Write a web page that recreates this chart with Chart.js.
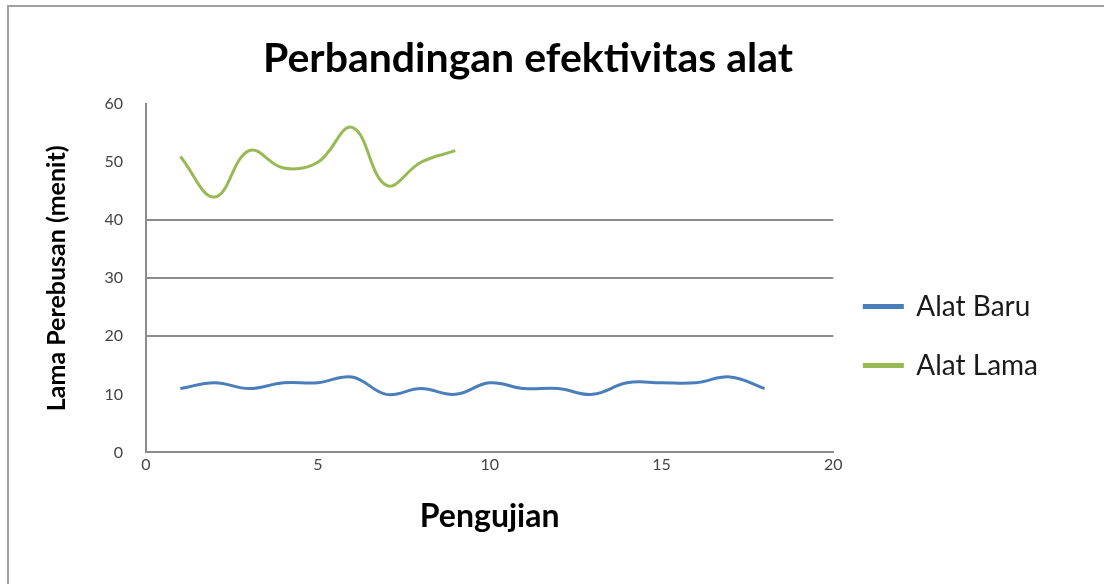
<!DOCTYPE html>
<html>
<head>
<meta charset="utf-8">
<script src="https://cdn.jsdelivr.net/npm/chart.js@4"></script>
<style>
  html, body { margin: 0; padding: 0; background: #fff; }
  body { width: 1104px; height: 584px; overflow: hidden; position: relative; }
  #frame { position: absolute; left: 7px; top: 5px; width: 1110px; height: 600px;
           border: 2px solid #a0a0a0; box-sizing: border-box; }
  #wrap { position: absolute; left: 0; top: 0; width: 1104px; height: 584px; }
</style>
</head>
<body>
<div id="frame"></div>
<div id="wrap"><canvas id="grafik"></canvas></div>
<script>
// Data pengujian
const pengujianBaru = [1, 2, 3, 4, 5, 6, 7, 8, 9, 10, 11, 12, 13, 14, 15, 16, 17, 18];
const alatBaru = [11, 12, 11, 12, 12, 13, 10, 11, 10, 12, 11, 11, 10, 12, 12, 12, 13, 11];
const pengujianLama = [1, 2, 3, 4, 5, 6, 7, 8, 9];
const alatLama = [51, 44, 52, 49, 50, 56, 46, 50, 52];
const xTicks = [0, 5, 10, 15, 20];
const yTicks = [0, 10, 20, 30, 40, 50, 60];
const gridShown = [20, 30, 40];

function toPoints(xs, ys) {
    return xs.map((x, i) => ({ x: x, y: ys[i] }));
}

const fontUtama = 'Lato, "Open Sans", sans-serif';

const ctx = document.getElementById('grafik').getContext('2d');
new Chart(ctx, {
    type: 'scatter',
    data: {
        datasets: [{
            label: 'Alat Baru',
            data: toPoints(pengujianBaru, alatBaru),
            borderColor: '#4a7ebb',
            backgroundColor: '#4a7ebb',
            borderWidth: 3,
            showLine: true,
            tension: 0.4,
            pointRadius: 0
        }, {
            label: 'Alat Lama',
            data: toPoints(pengujianLama, alatLama),
            borderColor: '#98b954',
            backgroundColor: '#98b954',
            borderWidth: 3,
            showLine: true,
            tension: 0.4,
            pointRadius: 0
        }]
    },
    options: {
        responsive: true,
        maintainAspectRatio: false,
        animation: false,
        layout: {
            padding: { left: 8, right: 56, top: 34, bottom: 48 }
        },
        plugins: {
            title: {
                display: true,
                text: 'Perbandingan efektivitas alat',
                color: '#000',
                font: { family: fontUtama, size: 41, weight: 'bold' },
                padding: { top: 0, bottom: 21 }
            },
            legend: {
                position: 'right',
                title: {
                    // ruang kosong supaya legenda turun
                    display: true,
                    text: ' ',
                    color: 'rgba(0,0,0,0)',
                    font: { size: 10 },
                    padding: { top: 90, bottom: 0 }
                },
                labels: {
                    color: '#1a1a1a',
                    font: { family: fontUtama, size: 28 },
                    boxWidth: 38,
                    boxHeight: 2,
                    padding: 31
                }
            },
            tooltip: { enabled: false }
        },
        scales: {
            x: {
                type: 'linear',
                min: 0,
                max: 20,
                afterBuildTicks: function(axis) {
                    axis.ticks = xTicks.map(v => ({ value: v }));
                },
                grid: { display: false, drawTicks: false },
                border: { display: true, color: '#8c8c8c', width: 2 },
                ticks: {
                    color: '#444',
                    font: { family: fontUtama, size: 16 },
                    padding: 3
                },
                title: {
                    display: true,
                    text: 'Pengujian',
                    color: '#000',
                    font: { family: fontUtama, size: 32, weight: 'bold' },
                    padding: { top: 20, bottom: 0 }
                }
            },
            y: {
                min: 0,
                max: 60,
                afterBuildTicks: function(axis) {
                    axis.ticks = yTicks.map(v => ({ value: v }));
                },
                afterFit: function(axis) {
                    axis.width = 138;
                },
                grid: {
                    drawTicks: false,
                    lineWidth: 2,
                    color: function(c) {
                        return gridShown.includes(c.tick.value) ? '#8c8c8c' : 'rgba(0,0,0,0)';
                    }
                },
                border: { display: true, color: '#8c8c8c', width: 2 },
                ticks: {
                    color: '#444',
                    font: { family: fontUtama, size: 16 },
                    padding: 23
                },
                title: {
                    display: true,
                    text: 'Lama Perebusan (menit)',
                    color: '#000',
                    font: { family: fontUtama, size: 25, weight: 'bold' },
                    padding: { top: 34, bottom: 0 }
                }
            }
        }
    }
});
</script>
</body>
</html>
